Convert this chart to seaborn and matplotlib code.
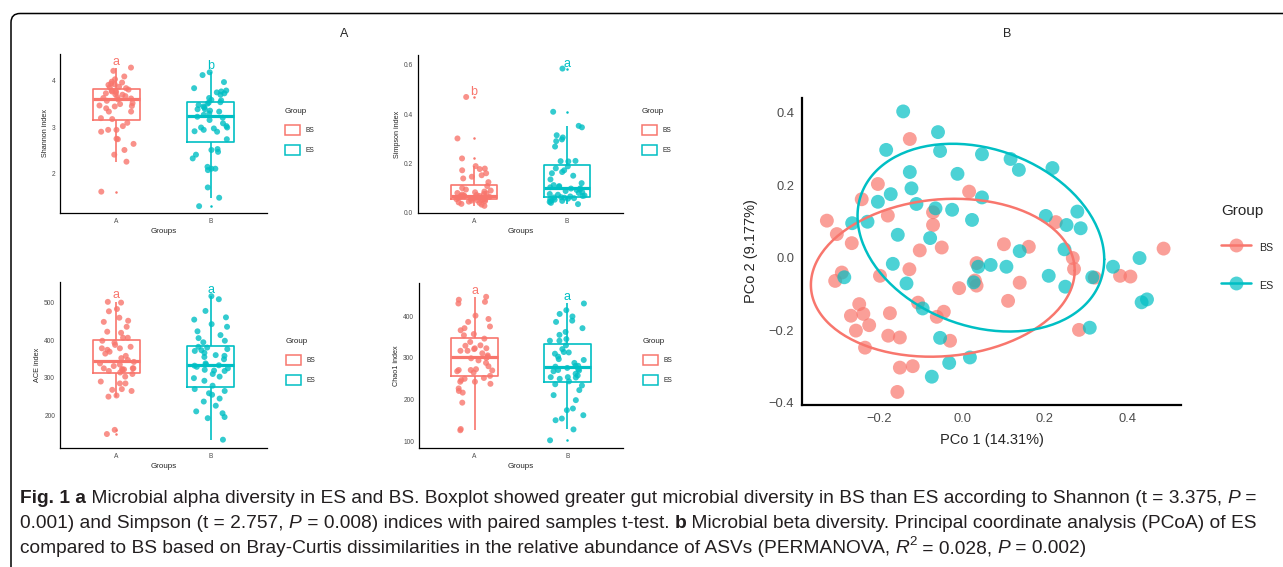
import numpy as np
import pandas as pd
import matplotlib
matplotlib.use("Agg")
import matplotlib.pyplot as plt
import seaborn as sns
from matplotlib.patches import FancyBboxPatch, Patch
from matplotlib.lines import Line2D
from matplotlib.colors import to_rgba
from matplotlib.transforms import IdentityTransform

W, H = 1283, 567
PALETTE = {"BS": "#F8766D", "ES": "#00BFC4"}
GROUPS = ["BS", "ES"]
X_LEVELS = ["A", "B"]

# ---- alpha diversity (A = BS, B = ES) ----
shannon_bs = [1.62, 2.26, 2.41, 2.51, 2.64, 2.74, 2.75, 2.90, 2.94, 2.94, 3.02, 3.09,
              3.17, 3.19, 3.33, 3.33, 3.40, 3.44, 3.45, 3.46, 3.49, 3.51, 3.56, 3.59,
              3.61, 3.62, 3.64, 3.66, 3.69, 3.70, 3.72, 3.74, 3.76, 3.77, 3.78, 3.80,
              3.83, 3.85, 3.86, 3.90, 3.91, 3.93, 3.95, 3.97, 4.02, 4.08, 4.20, 4.27]
shannon_es = [1.31, 1.49, 1.71, 2.08, 2.11, 2.11, 2.15, 2.33, 2.41, 2.47, 2.51, 2.53,
              2.74, 2.90, 2.91, 2.94, 2.97, 2.99, 2.99, 3.02, 3.08, 3.15, 3.20, 3.22,
              3.26, 3.29, 3.33, 3.35, 3.38, 3.38, 3.42, 3.44, 3.47, 3.50, 3.52, 3.53,
              3.57, 3.58, 3.62, 3.69, 3.72, 3.74, 3.76, 3.78, 3.83, 3.96, 4.11, 4.17]
simpson_bs = [0.028, 0.033, 0.036, 0.040, 0.042, 0.045, 0.047, 0.049, 0.050, 0.052, 0.053, 0.053,
              0.055, 0.057, 0.058, 0.060, 0.061, 0.062, 0.063, 0.064, 0.065, 0.066, 0.068, 0.068,
              0.070, 0.072, 0.074, 0.076, 0.078, 0.080, 0.083, 0.086, 0.090, 0.094, 0.100, 0.108,
              0.124, 0.139, 0.146, 0.152, 0.160, 0.172, 0.177, 0.179, 0.189, 0.220, 0.301, 0.469]
simpson_es = [0.035, 0.040, 0.044, 0.048, 0.050, 0.053, 0.055, 0.057, 0.059, 0.061, 0.062, 0.063,
              0.066, 0.068, 0.070, 0.073, 0.076, 0.080, 0.084, 0.088, 0.092, 0.095, 0.098, 0.099,
              0.103, 0.105, 0.108, 0.112, 0.120, 0.135, 0.150, 0.160, 0.165, 0.172, 0.180, 0.188,
              0.208, 0.209, 0.210, 0.268, 0.290, 0.297, 0.305, 0.314, 0.346, 0.352, 0.409, 0.584]
ace_bs = [151, 162, 250, 253, 265, 268, 270, 285, 285, 290, 303, 310,
          314, 318, 321, 322, 323, 325, 325, 325, 331, 335, 338, 342,
          347, 352, 358, 364, 369, 374, 378, 378, 382, 387, 393, 398,
          406, 406, 419, 422, 435, 448, 451, 459, 476, 482, 499, 501]
ace_es = [136, 193, 196, 206, 211, 226, 237, 245, 255, 259, 265, 270,
          279, 292, 299, 303, 310, 318, 319, 321, 325, 329, 332, 333,
          335, 338, 349, 355, 358, 360, 366, 371, 373, 376, 380, 382,
          394, 398, 405, 413, 423, 435, 442, 454, 460, 477, 508, 516]
chao1_bs = [127, 130, 193, 217, 221, 227, 238, 243, 243, 247, 250, 252,
            257, 265, 268, 270, 271, 271, 273, 280, 288, 294, 299, 300,
            303, 306, 311, 317, 317, 321, 323, 323, 329, 330, 338, 346,
            354, 357, 366, 371, 375, 386, 393, 401, 430, 434, 439, 446]
chao1_es = [103, 129, 151, 155, 163, 175, 179, 199, 211, 223, 234, 237,
            244, 250, 253, 254, 254, 258, 262, 268, 270, 271, 273, 276,
            279, 281, 281, 288, 295, 297, 303, 310, 313, 314, 321, 330,
            341, 341, 345, 355, 362, 371, 386, 389, 399, 405, 414, 430]

shannon_letters, shannon_letter_y = ["a", "b"], [4.39, 4.31]
simpson_letters, simpson_letter_y = ["b", "a"], [0.489, 0.604]
ace_letters, ace_letter_y = ["a", "a"], [518, 532]
chao1_letters, chao1_letter_y = ["a", "a"], [459, 446]

shannon_ticks, shannon_ticklabels = [2, 3, 4], ["2", "3", "4"]
simpson_ticks, simpson_ticklabels = [0.0, 0.2, 0.4, 0.6], ["0.0", "0.2", "0.4", "0.6"]
ace_ticks, ace_ticklabels = [200, 300, 400, 500], ["200", "300", "400", "500"]
chao1_ticks, chao1_ticklabels = [100, 200, 300, 400], ["100", "200", "300", "400"]

# ---- PCoA (Bray-Curtis) ----
pcoa_bs_x = [-0.126, -0.203, 0.017, -0.242, -0.179, -0.070, -0.326, -0.070, -0.302, -0.266,
             -0.102, -0.049, 0.226, 0.101, 0.161, 0.486, 0.267, -0.290, -0.306, -0.198,
             -0.127, 0.035, -0.007, 0.035, 0.031, -0.106, -0.248, -0.268, -0.238, -0.174,
             -0.061, -0.044, -0.224, -0.256, -0.178, -0.150, -0.029, -0.234, -0.150, -0.119,
             -0.156, 0.270, 0.320, 0.381, 0.406, 0.139, 0.111, 0.282]
pcoa_bs_y = [0.327, 0.203, 0.182, 0.161, 0.116, 0.125, 0.102, 0.090, 0.065, 0.040,
             0.020, 0.028, 0.098, 0.037, 0.030, 0.025, -0.001, -0.041, -0.064, -0.050,
             -0.032, -0.015, -0.084, -0.077, -0.063, -0.124, -0.128, -0.160, -0.155, -0.153,
             -0.163, -0.149, -0.186, -0.201, -0.215, -0.220, -0.229, -0.248, -0.303, -0.299,
             -0.370, -0.031, -0.055, -0.050, -0.052, -0.069, -0.119, -0.199]
pcoa_es_x = [-0.142, -0.058, -0.183, -0.053, 0.048, -0.126, -0.011, -0.122, -0.172, -0.203,
             -0.110, 0.048, -0.064, -0.024, -0.265, -0.228, 0.024, -0.155, -0.077, 0.117,
             0.137, 0.218, 0.202, 0.278, 0.252, 0.286, 0.139, 0.247, 0.428, -0.167,
             -0.284, -0.134, 0.039, 0.069, 0.028, -0.095, -0.053, -0.031, 0.019, -0.073,
             0.107, 0.209, 0.249, 0.314, 0.364, 0.433, 0.446, 0.308]
pcoa_es_y = [0.403, 0.346, 0.297, 0.294, 0.285, 0.236, 0.231, 0.191, 0.175, 0.154,
             0.148, 0.166, 0.136, 0.132, 0.095, 0.099, 0.104, 0.063, 0.054, 0.272,
             0.242, 0.247, 0.115, 0.127, 0.090, 0.081, 0.018, 0.023, -0.001, -0.017,
             -0.054, -0.071, -0.025, -0.020, -0.068, -0.140, -0.221, -0.290, -0.275, -0.328,
             -0.025, -0.050, -0.080, -0.054, -0.025, -0.123, -0.115, -0.193]
pcoa_xticks, pcoa_xticklabels = [-0.2, 0.0, 0.2, 0.4], ["\u22120.2", "0.0", "0.2", "0.4"]
pcoa_yticks, pcoa_yticklabels = [-0.4, -0.2, 0.0, 0.2, 0.4], ["\u22120.4", "\u22120.2", "0.0", "0.2", "0.4"]
ELLIPSE_LEVEL = 0.68  # normal confidence ellipse

caption_lines = [
    [("Fig. 1 a", "b"), (" Microbial alpha diversity in ES and BS. Boxplot showed greater gut microbial "
                         "diversity in BS than ES according to Shannon (t = 3.375, ", "n"), ("P", "i"), (" =", "n")],
    [("0.001) and Simpson (t = 2.757, ", "n"), ("P", "i"), (" = 0.008) indices with paired samples t-test. ", "n"),
     ("b", "b"), (" Microbial beta diversity. Principal coordinate analysis (PCoA) of ES", "n")],
    [("compared to BS based on Bray-Curtis dissimilarities in the relative abundance of ASVs (PERMANOVA, ", "n"),
     ("R", "i"), ("2", "sup"), (" = 0.028, ", "n"), ("P", "i"), (" = 0.002)", "n")],
]

sns.set_style("white")
plt.rcParams["font.family"] = ["Liberation Sans", "DejaVu Sans"]
plt.rcParams["axes.edgecolor"] = "black"

fig = plt.figure(figsize=(W / 100, H / 100), dpi=100)
fig.patch.set_facecolor("white")


def px_rect(l, t, r, b):
    return [l / W, 1 - b / H, (r - l) / W, (b - t) / H]


def alpha_panel(rect, bs, es, ylabel, ylim, ticks, ticklabels, letters, letter_y, legend_at):
    ax = fig.add_axes(px_rect(*rect))
    df = pd.DataFrame({
        "Groups": ["A"] * len(bs) + ["B"] * len(es),
        "Group": ["BS"] * len(bs) + ["ES"] * len(es),
        "value": list(bs) + list(es),
    })
    sns.boxplot(data=df, x="Groups", y="value", hue="Group", order=X_LEVELS, hue_order=GROUPS,
                palette=PALETTE, fill=False, width=0.5, dodge=False, linewidth=1.2,
                showcaps=False, flierprops=dict(marker="o", markersize=1.0, markeredgewidth=0.8),
                medianprops=dict(linewidth=2.3), legend=False, ax=ax)
    sns.stripplot(data=df, x="Groups", y="value", hue="Group", order=X_LEVELS, hue_order=GROUPS,
                  palette=PALETTE, jitter=0.19, size=4.3, alpha=0.8, linewidth=0,
                  dodge=False, legend=False, ax=ax)
    for i, (lab, y) in enumerate(zip(letters, letter_y)):
        ax.text(i, y, lab, color=PALETTE[GROUPS[i]], ha="center", va="center", fontsize=9)
    ax.set_xlim(-0.6, 1.6)
    ax.set_ylim(*ylim)
    ax.set_yticks(ticks)
    ax.set_yticklabels(ticklabels)
    ax.set_xlabel("Groups", fontsize=5.8, labelpad=2)
    ax.set_ylabel(ylabel, fontsize=5.2, labelpad=2)
    ax.tick_params(labelsize=4.8, length=2, width=0.6, pad=1.5, labelcolor="#4D4D4D", color="black")
    for s in ["top", "right"]:
        ax.spines[s].set_visible(False)
    for s in ["left", "bottom"]:
        ax.spines[s].set_linewidth(0.9)
    handles = [Patch(facecolor="white", edgecolor=PALETTE[g], linewidth=1.1) for g in GROUPS]
    ax.legend(handles, GROUPS, title="Group", loc="upper left",
              bbox_to_anchor=(legend_at[0] / W, 1 - legend_at[1] / H), bbox_transform=fig.transFigure,
              frameon=False, fontsize=4.8, title_fontsize=5.8, handlelength=2.3, handleheight=1.9,
              labelspacing=1.5, handletextpad=0.8, borderpad=0, borderaxespad=0, alignment="left")
    return ax


np.random.seed(7)
alpha_panel((60, 54, 267, 213), shannon_bs, shannon_es, "Shannon index", (1.164, 4.56),
            shannon_ticks, shannon_ticklabels, shannon_letters, shannon_letter_y, (285, 108))
alpha_panel((418, 55, 623, 213), simpson_bs, simpson_es, "Simpson index", (-0.001, 0.639),
            simpson_ticks, simpson_ticklabels, simpson_letters, simpson_letter_y, (642, 108))
alpha_panel((60, 282, 267, 448), ace_bs, ace_es, "ACE index", (114, 553.6),
            ace_ticks, ace_ticklabels, ace_letters, ace_letter_y, (286, 338))
alpha_panel((419, 283, 623, 448), chao1_bs, chao1_es, "Chao1 index", (84.6, 479),
            chao1_ticks, chao1_ticklabels, chao1_letters, chao1_letter_y, (643, 338))

# ---- PCoA panel ----
ax = fig.add_axes(px_rect(802, 98, 1181, 405))
pc = pd.DataFrame({
    "PC1": pcoa_bs_x + pcoa_es_x,
    "PC2": pcoa_bs_y + pcoa_es_y,
    "Group": ["BS"] * len(pcoa_bs_x) + ["ES"] * len(pcoa_es_x),
})
sns.scatterplot(data=pc, x="PC1", y="PC2", hue="Group", hue_order=GROUPS, palette=PALETTE,
                s=100, alpha=0.7, linewidth=0, legend=False, ax=ax)
theta = np.linspace(0, 2 * np.pi, 200)
circle = np.column_stack([np.cos(theta), np.sin(theta)])
radius = np.sqrt(-2 * np.log(1 - ELLIPSE_LEVEL))
for g in GROUPS:
    pts = pc.loc[pc["Group"] == g, ["PC1", "PC2"]].to_numpy()
    center = pts.mean(axis=0)
    chol = np.linalg.cholesky(np.cov(pts.T)).T
    ell = center + radius * circle @ chol
    ax.plot(ell[:, 0], ell[:, 1], color=PALETTE[g], linewidth=1.8)
ax.set_xlim(-0.386, 0.528)
ax.set_ylim(-0.406, 0.44)
ax.set_xticks(pcoa_xticks)
ax.set_xticklabels(pcoa_xticklabels)
ax.set_yticks(pcoa_yticks)
ax.set_yticklabels(pcoa_yticklabels)
ax.set_xlabel("PCo 1 (14.31%)", fontsize=10.5, labelpad=6)
ax.set_ylabel("PCo 2 (9.177%)", fontsize=10.5, labelpad=8)
ax.tick_params(labelsize=9.3, length=3.5, width=1.2, pad=2, labelcolor="#4D4D4D", color="black")
for s in ["top", "right"]:
    ax.spines[s].set_visible(False)
for s in ["left", "bottom"]:
    ax.spines[s].set_linewidth(1.6)
leg_handles = [Line2D([0], [0], color=PALETTE[g], linewidth=1.8, marker="o", markersize=10,
                      markerfacecolor=to_rgba(PALETTE[g], 0.7), markeredgewidth=0) for g in GROUPS]
ax.legend(leg_handles, GROUPS, title="Group", loc="upper left",
          bbox_to_anchor=(1221 / W, 1 - 204 / H), bbox_transform=fig.transFigure,
          frameon=False, fontsize=7.7, title_fontsize=11, handlelength=2.8, handleheight=2.0,
          labelspacing=2.0, handletextpad=0.8, borderpad=0, borderaxespad=0, alignment="left")

# panel letters
fig.text(344 / W, 1 - 34 / H, "A", ha="center", va="center", fontsize=9)
fig.text(1007 / W, 1 - 34 / H, "B", ha="center", va="center", fontsize=9)

# rounded frame
frame = FancyBboxPatch((11, -40), 1400, 553.5 + 40, boxstyle="round,pad=0,rounding_size=9",
                       transform=IdentityTransform(), facecolor="none", edgecolor="black",
                       linewidth=1.1)
fig.patches.append(frame)

# caption with mixed styles
renderer = fig.canvas.get_renderer()
STYLES = {"n": {}, "b": {"fontweight": "bold"}, "i": {"fontstyle": "italic"}, "sup": {}}


def run_width(txt, size, style):
    kw = dict(fontsize=size * (0.7 if style == "sup" else 1), transform=IdentityTransform(), **STYLES[style])
    t = fig.text(0, 0, txt + "|", **kw)
    b = fig.text(0, 0, "|", **kw)
    w = t.get_window_extent(renderer).width - b.get_window_extent(renderer).width
    t.remove()
    b.remove()
    return w


base = 10
w1 = sum(run_width(t, base, s) for t, s in caption_lines[0])
cap_size = base * 1243 / w1
baselines = [503, 528, 553]
for line, yb in zip(caption_lines, baselines):
    x = 20
    for txt, style in line:
        size = cap_size * (0.7 if style == "sup" else 1)
        y = H - yb + (cap_size * 0.55 if style == "sup" else 0)
        fig.text(x, y, txt, fontsize=size, va="baseline", ha="left", color="#231F20",
                 transform=IdentityTransform(), **STYLES[style])
        x += run_width(txt, cap_size, style)

fig.savefig("out.png", dpi=100, facecolor="white")
